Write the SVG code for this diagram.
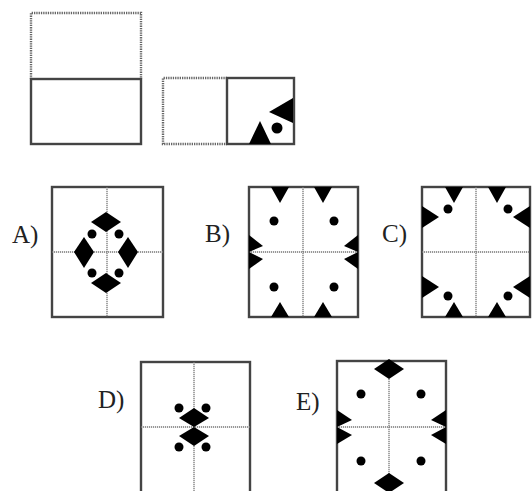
<svg xmlns="http://www.w3.org/2000/svg" width="532" height="491" viewBox="0 0 532 491">
<style>
.solid{fill:none;stroke:#444;stroke-width:2.4}
.dot{fill:none;stroke:#666;stroke-width:2.4;stroke-dasharray:1.3 1}
.cross{fill:none;stroke:#777;stroke-width:1.3;stroke-dasharray:1.2 0.8}
.blk{fill:#000}
.lbl{font-family:"Liberation Serif","Times New Roman",serif;font-size:25px;fill:#222}
</style>
<rect width="532" height="491" fill="#fff"/>
<g id="q1">
<polyline class="dot" points="31,79 31,13 141,13 141,79"/>
<rect class="solid" x="31" y="79" width="110" height="65"/>
</g>
<g id="q2">
<polyline class="dot" points="227,78 163,78 163,144 227,144"/>
<rect class="solid" x="227" y="78" width="67" height="66"/>
<polygon class="blk" points="269,112 293,98 293,123"/>
<polygon class="blk" points="260,121 271,144 249,144"/>
<circle class="blk" cx="277" cy="128" r="5.5"/>
</g>
<g id="optA">
<text class="lbl" x="12" y="243">A)</text>
<rect class="solid" x="52" y="187" width="111" height="130"/>
<line class="cross" x1="107" y1="187" x2="107" y2="317"/>
<line class="cross" x1="52" y1="252" x2="163" y2="252"/>
<polygon class="blk" points="106,212 121,222 106,232 91,222"/>
<polygon class="blk" points="106,273 121,283 106,293 91,283"/>
<polygon class="blk" points="84,237 94,252 84,268 74,252"/>
<polygon class="blk" points="128,237 138,252 128,268 118,252"/>
<circle class="blk" cx="92" cy="234" r="4.5"/>
<circle class="blk" cx="119" cy="234" r="4.5"/>
<circle class="blk" cx="92" cy="273" r="4.5"/>
<circle class="blk" cx="119" cy="273" r="4.5"/>
</g>
<g id="optB">
<text class="lbl" x="205" y="242">B)</text>
<rect class="solid" x="249" y="187" width="109" height="130"/>
<line class="cross" x1="303" y1="187" x2="303" y2="317"/>
<line class="cross" x1="249" y1="252" x2="358" y2="252"/>
<polygon class="blk" points="271,187 289,187 280,203"/>
<polygon class="blk" points="314,187 332,187 323,203"/>
<polygon class="blk" points="271,317 289,317 280,302"/>
<polygon class="blk" points="314,317 332,317 323,302"/>
<polygon class="blk" points="249,235 263,246 249,252"/>
<polygon class="blk" points="249,252 263,259 249,269"/>
<polygon class="blk" points="358,235 344,246 358,252"/>
<polygon class="blk" points="358,252 344,259 358,269"/>
<circle class="blk" cx="274" cy="221" r="4.5"/>
<circle class="blk" cx="334" cy="221" r="4.5"/>
<circle class="blk" cx="274" cy="287" r="4.5"/>
<circle class="blk" cx="334" cy="287" r="4.5"/>
</g>
<g id="optC">
<text class="lbl" x="382" y="242">C)</text>
<rect class="solid" x="422" y="187" width="108" height="130"/>
<line class="cross" x1="476" y1="187" x2="476" y2="317"/>
<line class="cross" x1="422" y1="252" x2="530" y2="252"/>
<polygon class="blk" points="445,187 463,187 454,203"/>
<polygon class="blk" points="488,187 506,187 497,203"/>
<polygon class="blk" points="445,317 463,317 454,302"/>
<polygon class="blk" points="488,317 506,317 497,302"/>
<polygon class="blk" points="422,206 439,217 422,228"/>
<polygon class="blk" points="422,276 439,287 422,298"/>
<polygon class="blk" points="530,206 513,217 530,228"/>
<polygon class="blk" points="530,276 513,287 530,298"/>
<circle class="blk" cx="448" cy="209" r="4.5"/>
<circle class="blk" cx="508" cy="209" r="4.5"/>
<circle class="blk" cx="448" cy="296" r="4.5"/>
<circle class="blk" cx="508" cy="296" r="4.5"/>
</g>
<g id="optD">
<text class="lbl" x="98" y="408">D)</text>
<rect class="solid" x="141" y="362" width="109" height="131"/>
<line class="cross" x1="194" y1="362" x2="194" y2="493"/>
<line class="cross" x1="141" y1="427" x2="250" y2="427"/>
<polygon class="blk" points="194,408 209,418 194,427 179,418"/>
<polygon class="blk" points="194,427 209,436 194,446 179,436"/>
<circle class="blk" cx="179" cy="408" r="4.5"/>
<circle class="blk" cx="206" cy="408" r="4.5"/>
<circle class="blk" cx="179" cy="447" r="4.5"/>
<circle class="blk" cx="206" cy="447" r="4.5"/>
</g>
<g id="optE">
<text class="lbl" x="296" y="410">E)</text>
<rect class="solid" x="337" y="361" width="109" height="132"/>
<line class="cross" x1="389" y1="361" x2="389" y2="493"/>
<line class="cross" x1="337" y1="427" x2="446" y2="427"/>
<polygon class="blk" points="389,359 404,369 389,379 374,369"/>
<polygon class="blk" points="389,473 404,483 389,493 374,483"/>
<polygon class="blk" points="337,410 352,420 337,427"/>
<polygon class="blk" points="337,427 352,435 337,444"/>
<polygon class="blk" points="446,410 431,420 446,427"/>
<polygon class="blk" points="446,427 431,435 446,444"/>
<circle class="blk" cx="361" cy="394" r="4.5"/>
<circle class="blk" cx="421" cy="394" r="4.5"/>
<circle class="blk" cx="361" cy="461" r="4.5"/>
<circle class="blk" cx="421" cy="461" r="4.5"/>
</g>
<g id="connectors"/>
</svg>
